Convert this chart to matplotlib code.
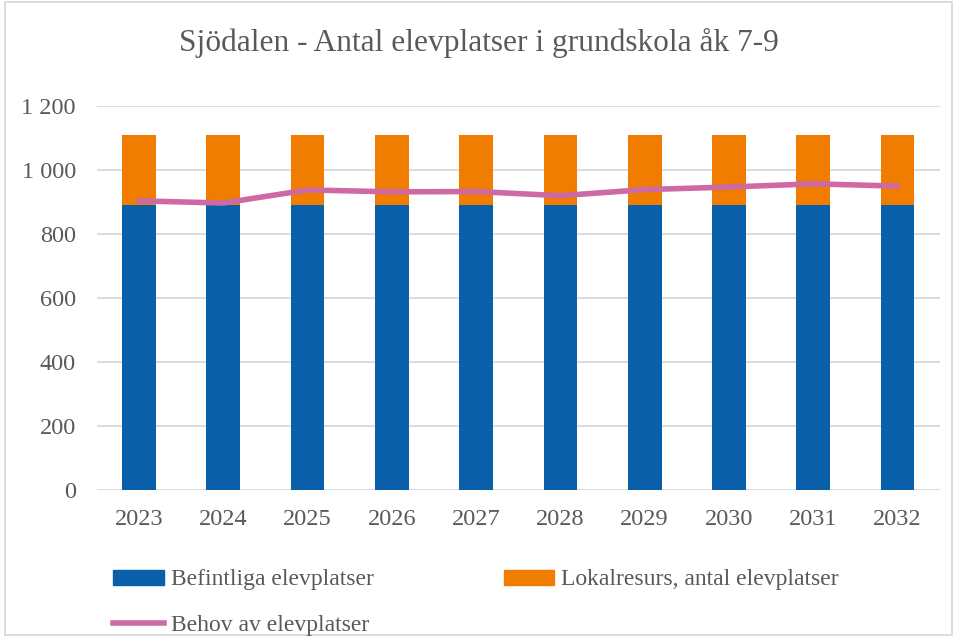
import matplotlib
matplotlib.use("Agg")
import matplotlib.pyplot as plt
from matplotlib.patches import Rectangle, Patch
from matplotlib.lines import Line2D

years = ["2023", "2024", "2025", "2026", "2027", "2028", "2029", "2030", "2031", "2032"]
befintliga = [890, 890, 890, 890, 890, 890, 890, 890, 890, 890]
lokalresurs = [220, 220, 220, 220, 220, 220, 220, 220, 220, 220]
behov = [903, 896, 937, 931, 932, 919, 938, 946, 956, 949]

blue = "#0A5FAB"
orange = "#F07D00"
pink = "#CE69A4"
text_col = "#595959"
grid_col = "#D9D9D9"

plt.rcParams["font.family"] = ["Liberation Serif", "DejaVu Serif"]

fig = plt.figure(figsize=(9.57, 6.37), dpi=100)
ax = fig.add_axes([0.101, 0.231, 0.881, 0.603])

x = list(range(len(years)))
ax.bar(x, befintliga, width=0.4, color=blue, zorder=2)
ax.bar(x, lokalresurs, width=0.4, bottom=befintliga, color=orange, zorder=2)
ax.plot(x, behov, color=pink, linewidth=4, zorder=3, solid_capstyle="round")

ax.set_ylim(0, 1200)
ax.set_xlim(-0.5, len(years) - 0.5)
ax.set_yticks(range(0, 1201, 200))
ax.set_yticklabels(["0", "200", "400", "600", "800", "1 000", "1 200"])
ax.set_xticks(x)
ax.set_xticklabels(years)
ax.yaxis.grid(True, color=grid_col, linewidth=1.3, zorder=0)
ax.set_axisbelow(True)
for s in ax.spines.values():
    s.set_visible(False)
ax.tick_params(axis="both", length=0, labelsize=17.5, colors=text_col)
ax.tick_params(axis="y", pad=15)
ax.tick_params(axis="x", pad=14)

fig.text(0.5, 0.933, "Sjödalen - Antal elevplatser i grundskola åk 7-9",
         ha="center", va="center", fontsize=22.6, color=text_col)

handles = [Patch(color=blue, label="Befintliga elevplatser"),
           Line2D([0], [0], color=pink, linewidth=4, label="Behov av elevplatser"),
           Patch(color=orange, label="Lokalresurs, antal elevplatser")]
leg = fig.legend(handles=handles, ncol=2, loc="upper left",
                 bbox_to_anchor=(0.118, 0.106), frameon=False,
                 fontsize=17, labelcolor=text_col, handlelength=2.15,
                 handleheight=0.6, handletextpad=0.3, columnspacing=5.5,
                 labelspacing=1.05, borderaxespad=0, borderpad=0)
fig.patches.append(Rectangle((0.005, 0.003), 0.99, 0.994, transform=fig.transFigure,
                             fill=False, edgecolor="#D9D9D9", linewidth=1.3))
fig.savefig("out.png", dpi=100)
